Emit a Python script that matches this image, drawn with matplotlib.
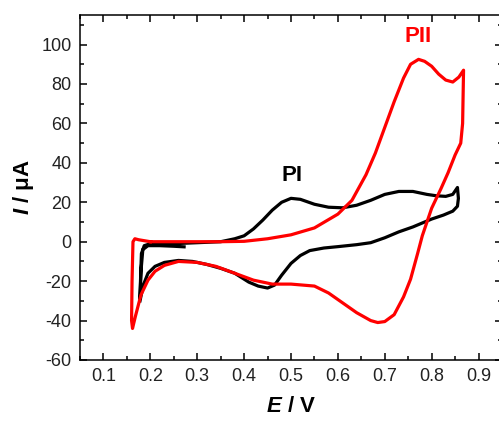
import numpy as np
import matplotlib.pyplot as plt
from matplotlib.ticker import MultipleLocator

plt.rcParams['font.family'] = ['Liberation Sans', 'DejaVu Sans']
plt.rcParams['mathtext.fontset'] = 'custom'
plt.rcParams['mathtext.bfit'] = 'Liberation Sans:italic:bold'
plt.rcParams['mathtext.it'] = 'Liberation Sans:italic'
plt.rcParams['mathtext.bf'] = 'Liberation Sans:bold'
plt.rcParams['axes.unicode_minus'] = False

# CV curve PI (black), potential E / V and current I / uA in scan order
E_black = [0.272, 0.25, 0.22, 0.195, 0.184, 0.180, 0.178, 0.179, 0.181, 0.187, 0.2, 0.25,
           0.3, 0.35, 0.38, 0.4, 0.42, 0.44, 0.46, 0.48, 0.5, 0.52, 0.55, 0.58, 0.61,
           0.64, 0.67, 0.7, 0.73, 0.76, 0.79, 0.81, 0.83, 0.845, 0.855, 0.857, 0.855,
           0.845, 0.825, 0.8, 0.78, 0.76, 0.73, 0.7, 0.67, 0.64, 0.6, 0.57, 0.54, 0.52,
           0.5, 0.48, 0.465, 0.45, 0.43, 0.41, 0.38, 0.35, 0.32, 0.29, 0.26, 0.23, 0.21,
           0.195, 0.185, 0.178]
I_black = [-2.6, -2.3, -2.0, -2.0, -4.0, -15.0, -29.0, -20.0, -6.0, -2.0, -1.0, -1.0,
           -0.5, 0.0, 1.5, 3.0, 6.5, 11.0, 16.0, 20.0, 22.0, 21.5, 19.0, 17.5, 17.2,
           18.5, 21.0, 24.0, 25.5, 25.5, 24.0, 23.3, 23.0, 24.0, 27.5, 22.0, 18.0,
           15.5, 13.5, 11.5, 9.5, 7.5, 5.0, 2.0, -0.5, -1.5, -2.5, -3.2, -4.5, -7.0,
           -11.0, -17.0, -22.0, -23.5, -22.5, -20.5, -16.0, -13.5, -11.5, -10.0, -9.5, -10.5, -12.5,
           -16.0, -22.0, -30.0]

# CV curve PII (red)
E_red = [0.2, 0.25, 0.3, 0.35, 0.4, 0.45, 0.5, 0.55, 0.6, 0.63, 0.66, 0.68, 0.7, 0.72,
         0.74, 0.755, 0.772, 0.785, 0.8, 0.815, 0.83, 0.845, 0.858, 0.868, 0.866, 0.862,
         0.85, 0.835, 0.82, 0.8, 0.78, 0.77, 0.755, 0.74, 0.72, 0.7, 0.685, 0.67, 0.64,
         0.61, 0.58, 0.55, 0.5, 0.46, 0.42, 0.38, 0.34, 0.3, 0.26, 0.23, 0.21, 0.195,
         0.18, 0.168, 0.162, 0.160, 0.161, 0.163, 0.167, 0.175, 0.2]
I_red = [0.0, 0.0, 0.0, 0.0, 0.2, 1.5, 3.5, 7.0, 14.0, 21.0, 34.0, 45.0, 58.0, 71.0,
         83.0, 90.0, 92.5, 91.5, 89.0, 85.0, 82.0, 81.0, 83.5, 87.0, 60.0, 50.0,
         44.0, 35.0, 27.0, 17.0, 3.0, -6.0, -19.0, -28.0, -37.0, -40.5, -41.0, -40.0, -36.0,
         -31.0, -26.0, -22.5, -21.5, -21.5, -19.5, -16.0, -12.5, -10.5, -10.0, -12.0, -15.0, -19.5,
         -27.0, -38.0, -44.0, -40.0, -20.0, 0.0, 1.5, 1.0, 0.0]

fig = plt.figure(figsize=(4.99, 4.21), dpi=100)
ax = fig.add_axes([80 / 499, 61 / 421, 422 / 499, 345 / 421])

ax.plot(E_black, I_black, color='black', lw=2.3, solid_joinstyle='round')
ax.plot(E_red, I_red, color='#ff0000', lw=2.3, solid_joinstyle='round')

ax.text(0.503, 33.5, 'PI', color='black', fontsize=16, fontweight='bold', ha='center', va='center')
ax.text(0.77, 104, 'PII', color='#ff0000', fontsize=16, fontweight='bold', ha='center', va='center')

ax.set_xlim(0.05, 0.95)
ax.set_ylim(-60, 115)
ax.xaxis.set_minor_locator(MultipleLocator(0.05))
ax.yaxis.set_minor_locator(MultipleLocator(10))
ax.set_xticks(np.arange(0.1, 0.91, 0.1))
ax.set_xticklabels(['0.1', '0.2', '0.3', '0.4', '0.5', '0.6', '0.7', '0.8', '0.9'])
ax.set_yticks(np.arange(-60, 101, 20))

ax.tick_params(which='both', direction='in', top=True, right=True, labelsize=13,
               labelcolor='#222222', width=1.1)
ax.tick_params(which='major', length=5, pad=6)
ax.tick_params(which='minor', length=3)
for s in ax.spines.values():
    s.set_linewidth(1.1)

ax.set_xlabel(r'$\mathbfit{E}$ / V', fontsize=16, fontweight='bold', labelpad=8)
ax.set_ylabel(r'$\mathbfit{I}$ / μA', fontsize=16, fontweight='bold', labelpad=4)

fig.savefig('out.png', dpi=100)
